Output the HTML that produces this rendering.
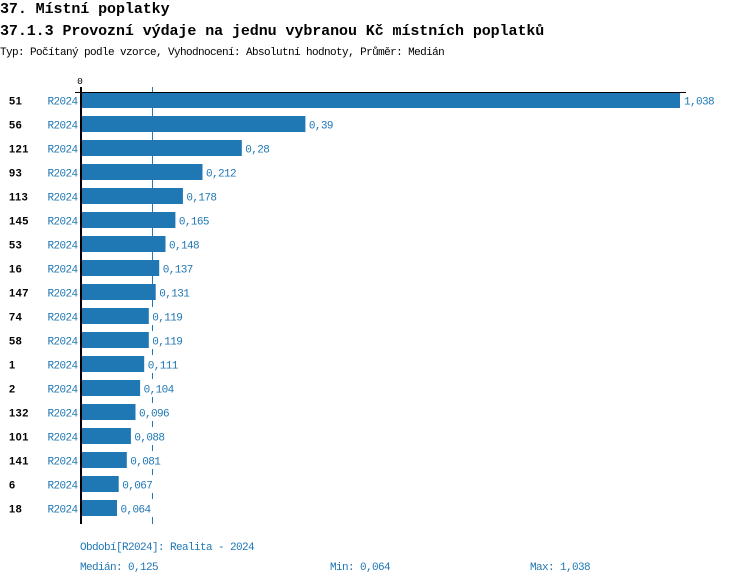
<!DOCTYPE html>
<html><head><meta charset="utf-8">
<style>
html,body{margin:0;padding:0;background:#fff;width:750px;height:584px;overflow:hidden}
svg{display:block}
.t{font-family:"Liberation Mono",monospace;font-weight:bold;font-size:15px;fill:#000;letter-spacing:-0.08px}
.s{font-family:"Liberation Mono",monospace;font-size:11px;letter-spacing:-0.6px}
.n{font-family:"Liberation Sans",sans-serif;font-weight:bold;font-size:11px;fill:#000;letter-spacing:0.5px}
.b{fill:#1f77b4}
.bl{fill:#1f77b4}
</style></head><body>
<svg width="750" height="584" viewBox="0 0 750 584" xmlns="http://www.w3.org/2000/svg">
<text class="t" x="0" y="13">37. Místní poplatky</text>
<text class="t" x="0" y="35">37.1.3 Provozní výdaje na jednu vybranou Kč místních poplatků</text>
<text class="s" x="0" y="55" fill="#000">Typ: Počítaný podle vzorce, Vyhodnocení: Absolutní hodnoty, Průměr: Medián</text>
<text class="s" x="80" y="84" fill="#000" text-anchor="middle" style="font-size:9.5px;letter-spacing:0">0</text>

<!-- median line -->
<rect x="152" y="87" width="1" height="437" class="b"/>

<!-- bars -->
<g class="b">
<rect x="80" y="92" width="600" height="16"/>
<rect x="80" y="116" width="225.4" height="16"/>
<rect x="80" y="140" width="161.8" height="16"/>
<rect x="80" y="164" width="122.5" height="16"/>
<rect x="80" y="188" width="102.9" height="16"/>
<rect x="80" y="212" width="95.4" height="16"/>
<rect x="80" y="236" width="85.5" height="16"/>
<rect x="80" y="260" width="79.2" height="16"/>
<rect x="80" y="284" width="75.7" height="16"/>
<rect x="80" y="308" width="68.8" height="16"/>
<rect x="80" y="332" width="68.8" height="16"/>
<rect x="80" y="356" width="64.2" height="16"/>
<rect x="80" y="380" width="60.1" height="16"/>
<rect x="80" y="404" width="55.5" height="16"/>
<rect x="80" y="428" width="50.9" height="16"/>
<rect x="80" y="452" width="46.8" height="16"/>
<rect x="80" y="476" width="38.7" height="16"/>
<rect x="80" y="500" width="37" height="16"/>
</g>

<!-- label backgrounds -->
<g fill="#fff">
<rect x="306.4" y="115" width="29" height="18"/>
<rect x="242.8" y="139" width="29" height="18"/>
<rect x="203.5" y="163" width="35" height="18"/>
<rect x="183.9" y="187" width="35" height="18"/>
<rect x="176.4" y="211" width="35" height="18"/>
<rect x="166.5" y="235" width="35" height="18"/>
<rect x="160.2" y="259" width="35" height="18"/>
<rect x="156.7" y="283" width="35" height="18"/>
<rect x="149.8" y="307" width="35" height="18"/>
<rect x="149.8" y="331" width="35" height="18"/>
<rect x="145.2" y="355" width="35" height="18"/>
<rect x="141.1" y="379" width="35" height="18"/>
<rect x="136.5" y="403" width="35" height="18"/>
<rect x="131.9" y="427" width="35" height="18"/>
<rect x="127.8" y="451" width="35" height="18"/>
<rect x="119.7" y="475" width="35" height="18"/>
<rect x="118" y="499" width="35" height="18"/>
</g>

<!-- axes -->
<rect x="75" y="92" width="611" height="1" fill="#000"/>
<rect x="80" y="87" width="2" height="437" fill="#000"/>

<!-- row numbers -->
<g class="n">
<text x="9" y="104.5">51</text>
<text x="9" y="128.5">56</text>
<text x="9" y="152.5">121</text>
<text x="9" y="176.5">93</text>
<text x="9" y="200.5">113</text>
<text x="9" y="224.5">145</text>
<text x="9" y="248.5">53</text>
<text x="9" y="272.5">16</text>
<text x="9" y="296.5">147</text>
<text x="9" y="320.5">74</text>
<text x="9" y="344.5">58</text>
<text x="9" y="368.5">1</text>
<text x="9" y="392.5">2</text>
<text x="9" y="416.5">132</text>
<text x="9" y="440.5">101</text>
<text x="9" y="464.5">141</text>
<text x="9" y="488.5">6</text>
<text x="9" y="512.5">18</text>
</g>

<!-- period labels -->
<g class="s bl">
<text x="47.5" y="104.5">R2024</text>
<text x="47.5" y="128.5">R2024</text>
<text x="47.5" y="152.5">R2024</text>
<text x="47.5" y="176.5">R2024</text>
<text x="47.5" y="200.5">R2024</text>
<text x="47.5" y="224.5">R2024</text>
<text x="47.5" y="248.5">R2024</text>
<text x="47.5" y="272.5">R2024</text>
<text x="47.5" y="296.5">R2024</text>
<text x="47.5" y="320.5">R2024</text>
<text x="47.5" y="344.5">R2024</text>
<text x="47.5" y="368.5">R2024</text>
<text x="47.5" y="392.5">R2024</text>
<text x="47.5" y="416.5">R2024</text>
<text x="47.5" y="440.5">R2024</text>
<text x="47.5" y="464.5">R2024</text>
<text x="47.5" y="488.5">R2024</text>
<text x="47.5" y="512.5">R2024</text>
</g>

<!-- value labels -->
<g class="s bl">
<text x="684" y="104.5">1,038</text>
<text x="308.9" y="128.5">0,39</text>
<text x="245.3" y="152.5">0,28</text>
<text x="206" y="176.5">0,212</text>
<text x="186.4" y="200.5">0,178</text>
<text x="178.9" y="224.5">0,165</text>
<text x="169" y="248.5">0,148</text>
<text x="162.7" y="272.5">0,137</text>
<text x="159.2" y="296.5">0,131</text>
<text x="152.3" y="320.5">0,119</text>
<text x="152.3" y="344.5">0,119</text>
<text x="147.7" y="368.5">0,111</text>
<text x="143.6" y="392.5">0,104</text>
<text x="139" y="416.5">0,096</text>
<text x="134.4" y="440.5">0,088</text>
<text x="130.3" y="464.5">0,081</text>
<text x="122.2" y="488.5">0,067</text>
<text x="120.5" y="512.5">0,064</text>
</g>

<!-- footer -->
<g class="s bl">
<text x="80" y="550">Období[R2024]: Realita - 2024</text>
<text x="80" y="570">Medián: 0,125</text>
<text x="330" y="570">Min: 0,064</text>
<text x="530" y="570">Max: 1,038</text>
</g>
</svg>
</body></html>
